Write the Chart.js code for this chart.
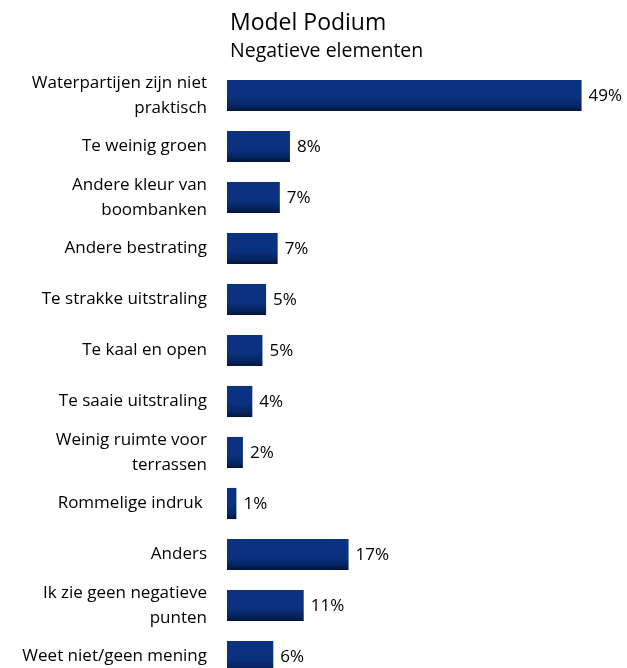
<!DOCTYPE html>
<html>
<head>
<meta charset="utf-8">
<script src="https://cdn.jsdelivr.net/npm/chart.js@4"></script>
<style>
html,body{margin:0;padding:0;background:#fff;overflow:hidden;}
#wrap{width:627px;height:682px;}
</style>
</head>
<body>
<div id="wrap"><canvas id="c" width="627" height="682"></canvas></div>
<script>
const title = "Model Podium";
const subtitle = "Negatieve elementen";
const categories = [
  ["Waterpartijen zijn niet", "praktisch"],
  "Te weinig groen",
  ["Andere kleur van", "boombanken"],
  "Andere bestrating",
  "Te strakke uitstraling",
  "Te kaal en open",
  "Te saaie uitstraling",
  ["Weinig ruimte voor", "terrassen"],
  "Rommelige indruk ",
  "Anders",
  ["Ik zie geen negatieve", "punten"],
  "Weet niet/geen mening"
];
const values = [49, 8.7, 7.3, 7.0, 5.4, 4.9, 3.5, 2.2, 1.3, 16.8, 10.6, 6.4];
const valueLabels = ["49%", "8%", "7%", "7%", "5%", "5%", "4%", "2%", "1%", "17%", "11%", "6%"];

const FONT = "'Open Sans', 'Noto Sans', sans-serif";

function barGradient(ctx) {
  const chart = ctx.chart;
  const ys = chart.scales.y;
  if (!ys || ctx.dataIndex === undefined) return '#0b3381';
  const c = ys.getPixelForValue(ctx.dataIndex);
  if (!isFinite(c)) return '#0b3381';
  const h = 31;
  const g = chart.ctx.createLinearGradient(0, c - h / 2, 0, c + h / 2);
  g.addColorStop(0, '#0b3382');
  g.addColorStop(0.6, '#0a317e');
  g.addColorStop(0.85, '#062460');
  g.addColorStop(1, '#031534');
  return g;
}

const titlePlugin = {
  id: 'titles',
  afterDraw(chart) {
    const ctx = chart.ctx;
    const x = chart.chartArea.left + 3;
    ctx.save();
    ctx.fillStyle = '#000';
    ctx.textAlign = 'left';
    ctx.textBaseline = 'alphabetic';
    ctx.font = "23px " + FONT;
    ctx.fillText(title, x, 30);
    ctx.font = "19.5px " + FONT;
    ctx.fillText(subtitle, x, 57);
    ctx.restore();
  }
};

const labelPlugin = {
  id: 'vlabels',
  afterDatasetsDraw(chart) {
    const ctx = chart.ctx;
    const meta = chart.getDatasetMeta(0);
    ctx.save();
    ctx.fillStyle = '#000';
    ctx.font = "17px " + FONT;
    ctx.textAlign = 'left';
    ctx.textBaseline = 'middle';
    meta.data.forEach((bar, i) => {
      ctx.fillText(valueLabels[i], bar.x + 7, bar.y + 1);
    });
    ctx.restore();
  }
};

new Chart(document.getElementById('c'), {
  type: 'bar',
  data: {
    labels: categories,
    datasets: [{
      data: values,
      backgroundColor: barGradient,
      borderWidth: 0,
      barPercentage: 0.61,
      categoryPercentage: 1
    }]
  },
  options: {
    indexAxis: 'y',
    responsive: false,
    animation: false,
    events: [],
    layout: { padding: { top: 70, bottom: 0, left: 0, right: 2 } },
    plugins: { legend: { display: false }, tooltip: { enabled: false }, title: { display: false } },
    scales: {
      x: { display: false, min: 0, max: 55 },
      y: {
        grid: { display: false, drawTicks: false },
        border: { display: false },
        afterFit(scale) { scale.width = 227; scale.paddingTop = 0; scale.paddingBottom = 0; },
        ticks: {
          color: '#000',
          padding: 20,
          autoSkip: false,
          font: { family: FONT, size: 17, lineHeight: 25 / 17 }
        }
      }
    }
  },
  plugins: [titlePlugin, labelPlugin]
});
</script>
</body>
</html>
